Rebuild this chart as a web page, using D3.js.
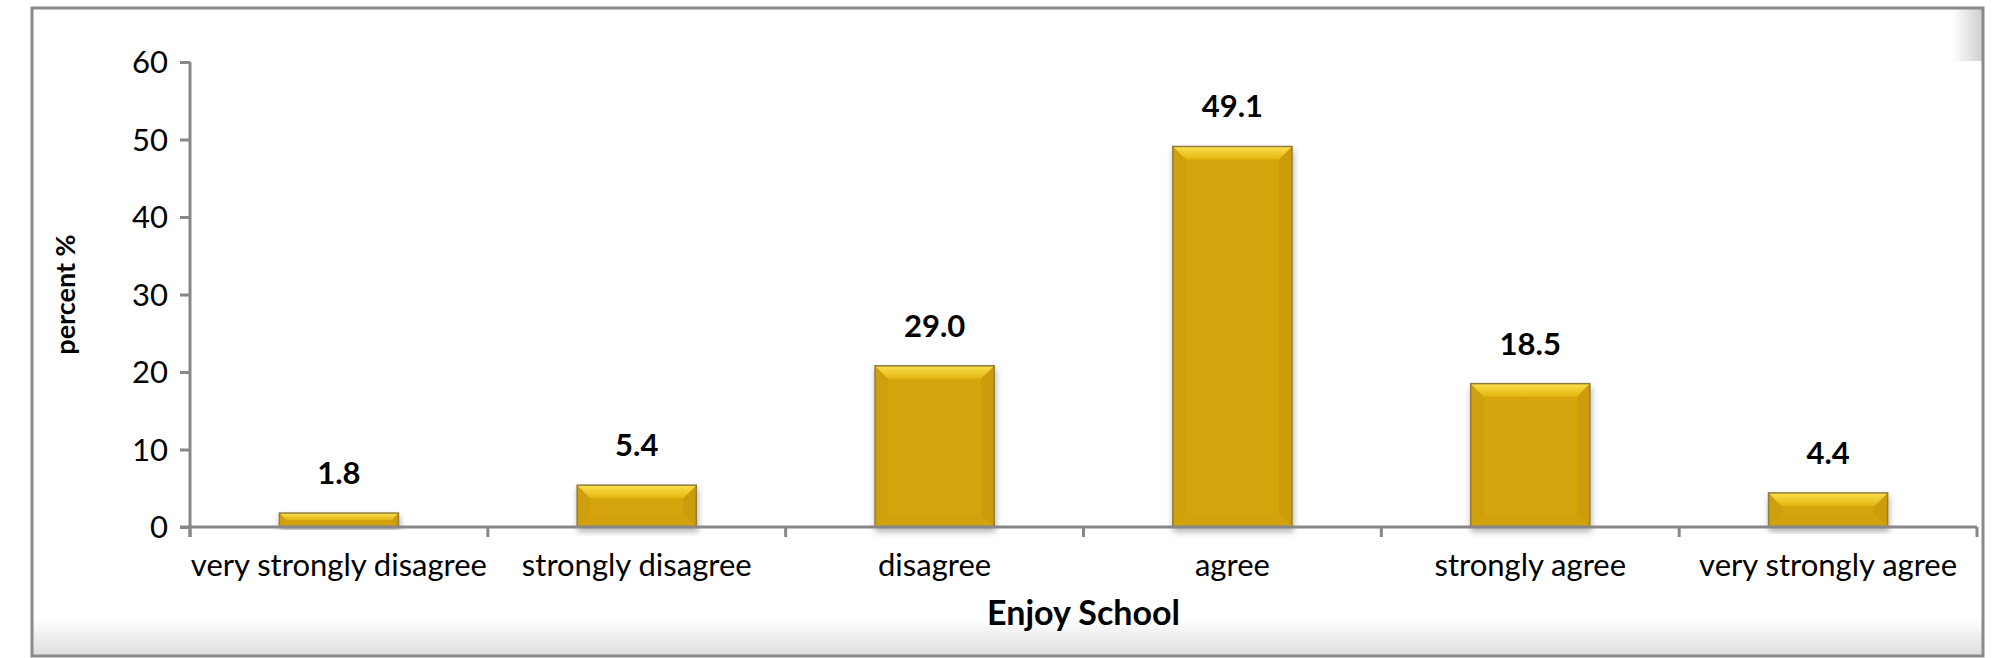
<!DOCTYPE html>
<html>
<head>
<meta charset="utf-8">
<script src="https://cdn.jsdelivr.net/npm/d3@7"></script>
<style>
  html, body { margin: 0; padding: 0; background: #fff; }
  svg { display: block; }
  text { font-family: Lato, 'Open Sans', sans-serif; fill: #000; }
</style>
</head>
<body>
<div id="vis"></div>
<script>
(function () {

  'strict';

  // Data
  var categories = [
    'very strongly disagree',
    'strongly disagree',
    'disagree',
    'agree',
    'strongly agree',
    'very strongly agree'
  ];

  // Bar heights as drawn in the picture
  var values = [1.8, 5.4, 20.8, 49.1, 18.5, 4.4];

  // Printed data labels (the third one does not match its bar)
  var labels = ['1.8', '5.4', '29.0', '49.1', '18.5', '4.4'];

  var yTicks = [0, 10, 20, 30, 40, 50, 60];

  // Settings
  var width = 1997;
  var height = 658;

  var margin = {
    top: 62,
    right: 20,
    bottom: 131,
    left: 190
  };

  var innerWidth = 1977 - margin.left;
  var innerHeight = 527 - margin.top;

  var axisColor = '#878787';

  (function init() {
    draw();
  })();

  function draw() {

    var svg, defs, frame, group, x, y, bars;

    svg = d3.select('#vis')
      .append('svg')
        .attr('width', width)
        .attr('height', height);

    defs = svg.append('defs');
    buildDefs(defs);

    // Outer chart frame
    frame = svg.append('g');

    frame.append('rect')
        .attr('x', 32)
        .attr('y', 8)
        .attr('width', 1951)
        .attr('height', 648)
        .attr('fill', '#fff');

    frame.append('rect')
        .attr('x', 33)
        .attr('y', 618)
        .attr('width', 1949)
        .attr('height', 37)
        .attr('fill', 'url(#bottomShade)');

    frame.append('rect')
        .attr('x', 1952)
        .attr('y', 9)
        .attr('width', 30)
        .attr('height', 52)
        .attr('fill', 'url(#cornerShade)');

    frame.append('rect')
        .attr('x', 32)
        .attr('y', 8)
        .attr('width', 1951)
        .attr('height', 648)
        .attr('fill', 'none')
        .attr('stroke', '#8a8a8a')
        .attr('stroke-width', 3);

    x = d3.scaleBand()
      .domain(categories)
      .range([0, innerWidth])
      .paddingInner(0.6)
      .paddingOuter(0.3);

    y = d3.scaleLinear()
      .domain([0, 60])
      .range([innerHeight, 0]);

    group = svg.append('g')
        .attr('transform', 'translate(' + margin.left + ',' + margin.top + ')');

    // Bars
    bars = group.append('g')
      .selectAll('g')
        .data(values)
        .enter()
      .append('g')
        .attr('filter', 'url(#barShadow)')
        .attr('transform', function (d, i) {
          return 'translate(' + x(categories[i]) + ',' + y(d) + ')';
        });

    bars.each(function (d) {
      drawBevelBar(d3.select(this), x.bandwidth(), y(0) - y(d));
    });

    // Data labels
    group.append('g')
      .selectAll('text')
        .data(values)
        .enter()
      .append('text')
        .attr('x', function (d, i) { return x(categories[i]) + x.bandwidth() / 2; })
        .attr('y', function (d) { return y(d) - 29; })
        .attr('text-anchor', 'middle')
        .attr('font-size', 31)
        .attr('font-weight', 'bold')
        .text(function (d, i) { return labels[i]; });

    // Y axis
    var yAxis = d3.axisLeft(y)
      .tickValues(yTicks)
      .tickSize(10)
      .tickPadding(12)
      .tickFormat(d3.format('d'));

    var gy = group.append('g')
        .call(yAxis);

    styleAxis(gy);
    gy.selectAll('text')
        .attr('font-size', 31)
        .attr('dy', '0.34em');

    // X axis line with ticks at category boundaries
    var gx = group.append('g')
        .attr('transform', 'translate(0,' + innerHeight + ')');

    gx.append('line')
        .attr('x1', -10)
        .attr('x2', innerWidth)
        .attr('stroke', axisColor)
        .attr('stroke-width', 3);

    gx.selectAll('.boundary')
        .data(d3.range(categories.length + 1))
        .enter()
      .append('line')
        .attr('class', 'boundary')
        .attr('x1', function (i) { return i * x.step(); })
        .attr('x2', function (i) { return i * x.step(); })
        .attr('y1', 0)
        .attr('y2', 10)
        .attr('stroke', axisColor)
        .attr('stroke-width', 3);

    gx.selectAll('.cat')
        .data(categories)
        .enter()
      .append('text')
        .attr('class', 'cat')
        .attr('x', function (d) { return x(d) + x.bandwidth() / 2; })
        .attr('y', 49)
        .attr('text-anchor', 'middle')
        .attr('font-size', 31)
        .text(function (d) { return d; });

    // Axis titles
    group.append('text')
        .attr('x', innerWidth / 2)
        .attr('y', innerHeight + 98)
        .attr('text-anchor', 'middle')
        .attr('font-size', 34)
        .attr('font-weight', 'bold')
        .text('Enjoy School');

    group.append('text')
        .attr('transform', 'translate(' + (75 - margin.left) + ',' + (innerHeight / 2) + ') rotate(-90)')
        .attr('text-anchor', 'middle')
        .attr('font-size', 27)
        .attr('font-weight', 'bold')
        .text('percent %');
  }

  function styleAxis(g) {

    g.select('.domain')
        .attr('stroke', axisColor)
        .attr('stroke-width', 3)
        .attr('d', 'M0,0V' + innerHeight + 'V' + (innerHeight + 10));

    g.selectAll('.tick line')
        .attr('stroke', axisColor)
        .attr('stroke-width', 3);
  }

  function drawBevelBar(g, w, h) {

    var b = Math.min(13, h / 2, w / 2);

    // Base face
    g.append('rect')
        .attr('width', w)
        .attr('height', h)
        .attr('fill', '#d6a507');

    // Left bevel
    g.append('polygon')
        .attr('points', [[0, 0], [b, b], [b, h - b], [0, h]].join(' '))
        .attr('fill', '#d09f07');

    // Right bevel
    g.append('polygon')
        .attr('points', [[w, 0], [w - b, b], [w - b, h - b], [w, h]].join(' '))
        .attr('fill', '#cd9c07');

    // Bottom bevel
    g.append('polygon')
        .attr('points', [[0, h], [b, h - b], [w - b, h - b], [w, h]].join(' '))
        .attr('fill', '#d2a107');

    // Top bevel
    g.append('polygon')
        .attr('points', [[0, 0], [w, 0], [w - b, b], [b, b]].join(' '))
        .attr('fill', 'url(#topBevel)');

    // Outline
    g.append('rect')
        .attr('width', w)
        .attr('height', h)
        .attr('fill', 'none')
        .attr('stroke', '#8f7d3c')
        .attr('stroke-width', 1.5);
  }

  function buildDefs(defs) {

    var top = defs.append('linearGradient')
        .attr('id', 'topBevel')
        .attr('x1', 0).attr('y1', 0)
        .attr('x2', 0).attr('y2', 1);

    top.append('stop').attr('offset', '0%').attr('stop-color', '#fbe04c');
    top.append('stop').attr('offset', '100%').attr('stop-color', '#e2b611');

    var bottom = defs.append('linearGradient')
        .attr('id', 'bottomShade')
        .attr('x1', 0).attr('y1', 0)
        .attr('x2', 0).attr('y2', 1);

    bottom.append('stop').attr('offset', '0%').attr('stop-color', '#fff');
    bottom.append('stop').attr('offset', '100%').attr('stop-color', '#dedede');

    var corner = defs.append('linearGradient')
        .attr('id', 'cornerShade')
        .attr('x1', 0).attr('y1', 0)
        .attr('x2', 1).attr('y2', 0);

    corner.append('stop').attr('offset', '0%').attr('stop-color', '#fff');
    corner.append('stop').attr('offset', '100%').attr('stop-color', '#d0d0d0');

    var shadow = defs.append('filter')
        .attr('id', 'barShadow')
        .attr('x', '-20%').attr('y', '-20%')
        .attr('width', '140%').attr('height', '140%');

    shadow.append('feDropShadow')
        .attr('dx', 1)
        .attr('dy', 4)
        .attr('stdDeviation', 3)
        .attr('flood-color', '#000')
        .attr('flood-opacity', 0.3);
  }
})();
</script>
</body>
</html>
